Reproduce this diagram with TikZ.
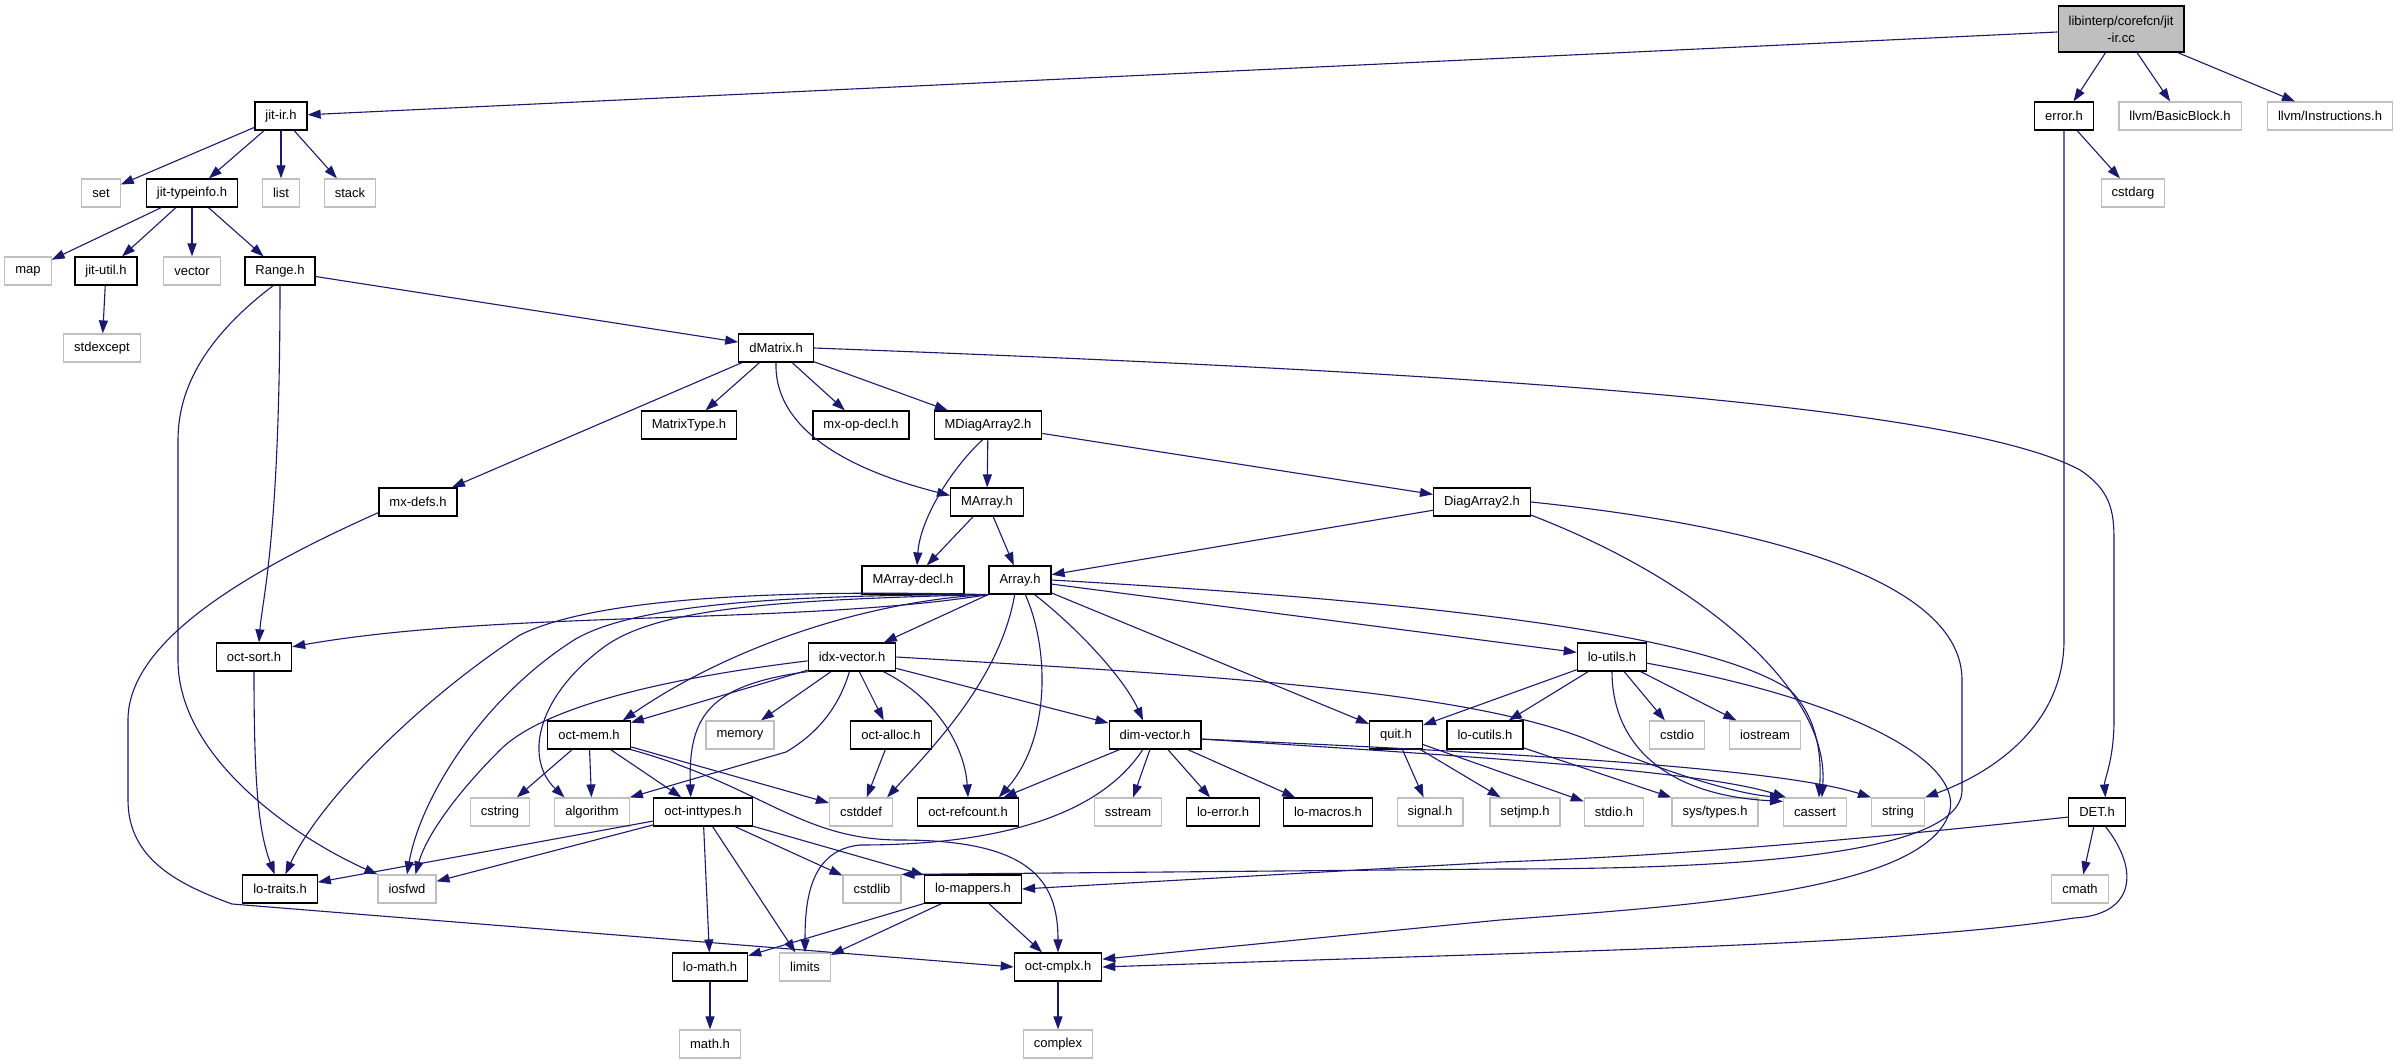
\documentclass[tikz,border=0pt]{standalone}
\usepackage{fontspec}
\setmainfont{Liberation Sans}
\usepackage{xcolor}
\usetikzlibrary{arrows.meta}

\definecolor{edgeblue}{HTML}{191970}
\definecolor{boxgray}{HTML}{BFBFBF}

\begin{document}
\begin{tikzpicture}[x=1pt, y=-1pt,
  every node/.style={font=\fontsize{13}{17}\selectfont, minimum height=28pt, inner xsep=10.5pt, inner ysep=2pt},
  hdr/.style={draw=black, line width=1.2pt},
  syshdr/.style={draw=boxgray, line width=1.2pt},
  inc/.style={draw=edgeblue, line width=1.1pt, -{Triangle[length=13pt,width=9pt]}}]
\fill[white] (0,0) rectangle (2400,1064);
\useasboundingbox (0,0) rectangle (2400,1064);

\node[hdr, fill=boxgray, align=center, minimum height=46pt] (jitircc) at (2121,29) {libinterp/corefcn/jit\\-ir.cc};
\node[hdr] (jitir) at (281,116) {jit-ir.h};
\node[hdr] (errorh) at (2064,116) {error.h};
\node[syshdr] (bblock) at (2180,116) {llvm/BasicBlock.h};
\node[syshdr] (instr) at (2330,116) {llvm/Instructions.h};
\node[syshdr] (set) at (101,193) {set};
\node[hdr] (typeinfo) at (192,193) {jit-typeinfo.h};
\node[syshdr] (list) at (281,193) {list};
\node[syshdr] (stack) at (350,193) {stack};
\node[syshdr] (cstdarg) at (2133,193) {cstdarg};
\node[syshdr] (map) at (28,271) {map};
\node[hdr] (jitutil) at (106,271) {jit-util.h};
\node[syshdr] (vector) at (192,271) {vector};
\node[hdr] (range) at (280,271) {Range.h};
\node[syshdr] (stdexcept) at (102,348) {stdexcept};
\node[hdr] (dmatrix) at (776,348) {dMatrix.h};
\node[hdr] (matrixtype) at (689,425) {MatrixType.h};
\node[hdr] (mxopdecl) at (861,425) {mx-op-decl.h};
\node[hdr] (mdiag) at (988,425) {MDiagArray2.h};
\node[hdr] (mxdefs) at (418,502) {mx-defs.h};
\node[hdr] (marray) at (987,502) {MArray.h};
\node[hdr] (diag) at (1482,502) {DiagArray2.h};
\node[hdr] (marraydecl) at (913,580) {MArray-decl.h};
\node[hdr] (array) at (1020,580) {Array.h};
\node[hdr] (octsort) at (254,657) {oct-sort.h};
\node[hdr] (idxvec) at (852,657) {idx-vector.h};
\node[hdr] (loutils) at (1612,657) {lo-utils.h};
\node[hdr] (octmem) at (589,735) {oct-mem.h};
\node[syshdr] (memory) at (740,735) {memory};
\node[hdr] (octalloc) at (891,735) {oct-alloc.h};
\node[hdr] (dimvec) at (1155,735) {dim-vector.h};
\node[hdr] (quit) at (1396,735) {quit.h};
\node[hdr] (locutils) at (1485,735) {lo-cutils.h};
\node[syshdr] (cstdio) at (1677,735) {cstdio};
\node[syshdr] (iostream) at (1765,735) {iostream};
\node[syshdr] (cstring) at (500,812) {cstring};
\node[syshdr] (algorithm) at (592,812) {algorithm};
\node[hdr] (inttypes) at (703,812) {oct-inttypes.h};
\node[syshdr] (cstddef) at (861,812) {cstddef};
\node[hdr] (refcount) at (968,812) {oct-refcount.h};
\node[syshdr] (sstream) at (1128,812) {sstream};
\node[hdr] (loerror) at (1223,812) {lo-error.h};
\node[hdr] (lomacros) at (1328,812) {lo-macros.h};
\node[syshdr] (signal) at (1430,812) {signal.h};
\node[syshdr] (setjmp) at (1525,812) {setjmp.h};
\node[syshdr] (stdio) at (1614,812) {stdio.h};
\node[syshdr] (systypes) at (1715,812) {sys/types.h};
\node[syshdr] (cassert) at (1815,812) {cassert};
\node[syshdr] (string) at (1898,812) {string};
\node[hdr] (deth) at (2097,812) {DET.h};
\node[hdr] (lotraits) at (280,889) {lo-traits.h};
\node[syshdr] (iosfwd) at (407,889) {iosfwd};
\node[syshdr] (cstdlib) at (872,889) {cstdlib};
\node[hdr] (lomappers) at (973,889) {lo-mappers.h};
\node[syshdr] (cmath) at (2080,889) {cmath};
\node[hdr] (lomath) at (710,967) {lo-math.h};
\node[syshdr] (limits) at (805,967) {limits};
\node[hdr] (octcmplx) at (1058,967) {oct-cmplx.h};
\node[syshdr] (mathh) at (710,1044) {math.h};
\node[syshdr] (complex) at (1058,1044) {complex};

\draw[inc] (jitircc) -- (jitir);
\draw[inc] (jitircc) -- (errorh);
\draw[inc] (jitircc) -- (bblock);
\draw[inc] (jitircc) -- (instr);
\draw[inc] (jitir) -- (set);
\draw[inc] (jitir) -- (typeinfo);
\draw[inc] (jitir) -- (list);
\draw[inc] (jitir) -- (stack);
\draw[inc] (errorh) -- (cstdarg);
\draw[inc] (errorh.south) -- (2064,640) .. controls (2064,720) and (2000,770) .. (string.north east);
\draw[inc] (typeinfo) -- (map);
\draw[inc] (typeinfo) -- (jitutil);
\draw[inc] (typeinfo) -- (vector);
\draw[inc] (typeinfo) -- (range);
\draw[inc] (jitutil) -- (stdexcept);
\draw[inc] (range) -- (dmatrix);
\draw[inc] (range.south) .. controls (280,540) and (262,600) .. ([xshift=5pt]octsort.north);
\draw[inc] (range.-115) .. controls (215,330) and (178,380) .. (178,440) -- (178,660) .. controls (178,760) and (300,840) .. (iosfwd.north west);

\draw[inc] (dmatrix) -- (mxdefs);
\draw[inc] (dmatrix) -- (matrixtype);
\draw[inc] (dmatrix) -- (mxopdecl);
\draw[inc] (dmatrix) -- (mdiag);
\draw[inc] (dmatrix.south) .. controls (774,420) and (830,465) .. (marray.170);
\draw[inc] (dmatrix.east) .. controls (1400,370) and (1950,400) .. (2080,470) .. controls (2110,490) and (2114,510) .. (2114,540) -- (2114,720) .. controls (2114,760) and (2104,780) .. (deth.60);
\draw[inc] (mxdefs.195) .. controls (250,570) and (128,640) .. (128,720) -- (128,800) .. controls (128,860) and (180,885) .. (232,904) -- (octcmplx.west);
\draw[inc] (mdiag) -- (marray);
\draw[inc] (mdiag) -- (diag);
\draw[inc] (mdiag.-110) .. controls (950,470) and (920,520) .. ([xshift=4pt]marraydecl.north);
\draw[inc] (marray) -- (marraydecl);
\draw[inc] (marray) -- (array);
\draw[inc] (diag) -- (array);
\draw[inc] (diag.-15) .. controls (1700,580) and (1830,690) .. (cassert.65);
\draw[inc] (diag.east) .. controls (1800,530) and (1962,590) .. (1962,680) -- (1962,790) .. controls (1962,860) and (1700,869) .. (1500,869) -- (cstdlib.north east);

\draw[inc] (array.south west) .. controls (800,625) and (500,610) .. (octsort.15);
\draw[inc] (array.south west) .. controls (800,590) and (600,595) .. (520,635) .. controls (420,700) and (320,800) .. (lotraits.70);
\draw[inc] (array.south west) .. controls (820,595) and (640,600) .. (574,640) .. controls (480,700) and (420,800) .. (iosfwd.north);
\draw[inc] (array.south west) .. controls (760,600) and (650,610) .. (600,650) .. controls (535,700) and (525,760) .. (algorithm.152);
\draw[inc] (array.south west) .. controls (880,600) and (740,640) .. ([xshift=-8pt]octmem.north east);
\draw[inc] (array) -- (idxvec);
\draw[inc] (array.-110) .. controls (1000,680) and (930,750) .. ([xshift=-6pt]cstddef.north east);
\draw[inc] (array.-70) .. controls (1050,650) and (1050,740) .. ([xshift=-20pt]refcount.north east);
\draw[inc] (array.-45) .. controls (1080,630) and (1125,680) .. ([xshift=-12pt]dimvec.north);
\draw[inc] (array) -- (quit);
\draw[inc] (array) -- (loutils);
\draw[inc] (array.east) .. controls (1400,600) and (1700,630) .. (1790,690) .. controls (1815,715) and (1822,750) .. (cassert.75);

\draw[inc] (idxvec) -- (octmem);
\draw[inc] (idxvec) -- (memory);
\draw[inc] (idxvec) -- (octalloc);
\draw[inc] (idxvec) -- (dimvec);
\draw[inc] (idxvec.-25) .. controls (940,700) and (965,750) .. (refcount.north);
\draw[inc] (idxvec.south west) .. controls (710,685) and (688,715) .. (inttypes.130);
\draw[inc] (idxvec.-100) .. controls (838,710) and (815,735) .. (786,752) -- (algorithm.north east);
\draw[inc] (idxvec.185) .. controls (650,680) and (540,710) .. (500,750) .. controls (450,800) and (425,840) .. (iosfwd.60);
\draw[inc] (idxvec.east) .. controls (1200,675) and (1480,690) .. (1600,745) .. controls (1700,785) and (1750,795) .. (cassert.north west);

\draw[inc] (octsort.south) .. controls (254,780) and (258,830) .. (lotraits.110);
\draw[inc] (octmem) -- (cstring);
\draw[inc] (octmem) -- (algorithm);
\draw[inc] (octmem) -- (inttypes);
\draw[inc] (octmem) -- (cstddef);
\draw[inc] (octmem.south east) .. controls (760,785) and (800,840) .. (900,840) .. controls (1030,840) and (1058,880) .. (octcmplx.north);
\draw[inc] (octalloc) -- (cstddef);

\draw[inc] (dimvec) -- (refcount);
\draw[inc] (dimvec) -- (sstream);
\draw[inc] (dimvec) -- (loerror);
\draw[inc] (dimvec) -- (lomacros);
\draw[inc] (dimvec.-130) .. controls (1090,830) and (960,845) .. (860,845) .. controls (810,850) and (805,900) .. (limits.north);
\draw[inc] (dimvec.-5) .. controls (1450,755) and (1700,770) .. ([xshift=3pt]cassert.north west);
\draw[inc] (dimvec.-5) .. controls (1500,752) and (1780,768) .. (string.north west);

\draw[inc] (quit) -- (signal);
\draw[inc] (quit) -- (setjmp);
\draw[inc] (quit) -- (stdio);
\draw[inc] (loutils) -- (quit);
\draw[inc] (loutils) -- (locutils);
\draw[inc] (loutils) -- (cstdio);
\draw[inc] (loutils) -- (iostream);
\draw[inc] (loutils.south) .. controls (1612,740) and (1660,795) .. ([yshift=-4pt]cassert.north west);
\draw[inc] (loutils.-10) .. controls (1850,700) and (1960,760) .. (1950,810) .. controls (1930,890) and (1700,905) .. (1500,920) -- (octcmplx.10);
\draw[inc] (locutils) -- (systypes);

\draw[inc] (inttypes) -- (lotraits);
\draw[inc] (inttypes) -- (iosfwd);
\draw[inc] (inttypes) -- (lomath);
\draw[inc] (inttypes) -- (limits);
\draw[inc] (inttypes) -- (cstdlib);
\draw[inc] (inttypes) -- (lomappers);
\draw[inc] (lomappers) -- (lomath);
\draw[inc] (lomappers) -- (limits);
\draw[inc] (lomappers) -- (octcmplx);
\draw[inc] (lomath) -- (mathh);
\draw[inc] (octcmplx) -- (complex);

\draw[inc] (deth) -- (cmath);
\draw[inc] (deth.190) .. controls (1900,835) and (1700,855) .. (1500,862) -- (lomappers.east);
\draw[inc] (deth.-60) .. controls (2140,870) and (2135,915) .. (2074,918) .. controls (1900,945) and (1600,950) .. (octcmplx.east);
\end{tikzpicture}
\end{document}
